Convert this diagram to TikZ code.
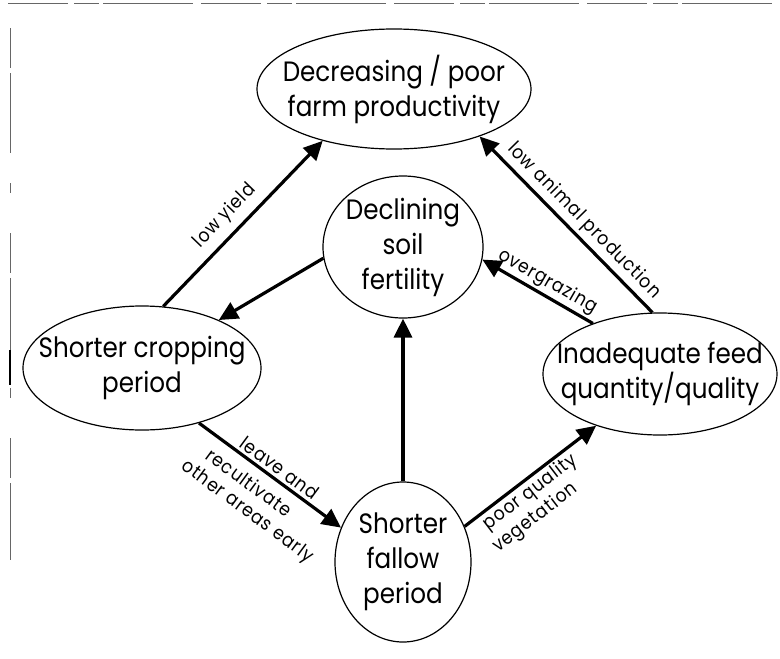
\documentclass[tikz,border=0pt]{standalone}
\usepackage{fontspec}
\setmainfont{Poppins}[FakeStretch=0.88]
\newfontfamily\lblfont{Poppins}[FakeStretch=0.9, LetterSpace=5]
\usetikzlibrary{shapes.geometric,arrows.meta}
\begin{document}
\begin{tikzpicture}[x=1pt,y=-1pt,
  blob/.style={ellipse, draw, line width=1.2pt, inner sep=-30pt, align=center,
               font=\fontsize{28}{35}\selectfont},
  link/.style={line width=3.2pt, -{Triangle[length=19pt,width=18pt]}},
  lbl/.style={font=\lblfont\fontsize{19}{22}\selectfont, sloped, inner sep=1pt},
  scan/.style={black!60, line width=0.6pt}]
\useasboundingbox (0,0) rectangle (780,659);
% scan frame remnants
\draw[scan, dash pattern=on 60pt off 6pt on 25pt off 4pt on 90pt off 8pt] (8,3) -- (780,3);
\draw[scan, dash pattern=on 40pt off 5pt on 80pt off 30pt on 10pt off 40pt] (10,28) -- (10,560);
\draw[black, line width=1.6pt] (10,350) -- (10,385);
% nodes
\node[blob, minimum width=274pt, minimum height=120pt] (T) at (394,89) {Decreasing / poor\\farm productivity};
\node[blob, minimum width=160pt, minimum height=142pt] (M) at (403,247) {Declining\\soil\\fertility};
\node[blob, minimum width=238pt, minimum height=124pt] (L) at (142,368) {Shorter cropping\\period};
\node[blob, minimum width=136pt, minimum height=160pt] (B) at (403,562) {Shorter\\fallow\\period};
\node[blob, minimum width=234pt, minimum height=122pt] (R) at (660,374) {Inadequate feed\\quantity/quality};
% connectors
\draw[link] (L.71) -- node[lbl, above=6pt, pos=0.47] {low yield} (T.216);
\draw[link] (M.188) -- (L.32);
\draw[link] (L.-44.5) -- node[lbl, above=2pt, pos=0.52] {leave and}
                         node[lbl, below=8pt, pos=0.43] {recultivate}
                         node[lbl, below=31pt, pos=0.52] {other areas early} (B.151);
\draw[link] (B.north) -- (M.south);
\draw[link] (B.30) -- node[lbl, below=1pt, pos=0.44] {poor quality}
                      node[lbl, below=24pt, pos=0.37] {vegetation} (R.219);
\draw[link] (R.143) -- node[lbl, above=1pt, pos=0.47] {overgrazing} (M.-9);
\draw[link] (R.97) -- node[lbl, above=3pt, pos=0.46] {low animal production} (T.-29);
\end{tikzpicture}
\end{document}
